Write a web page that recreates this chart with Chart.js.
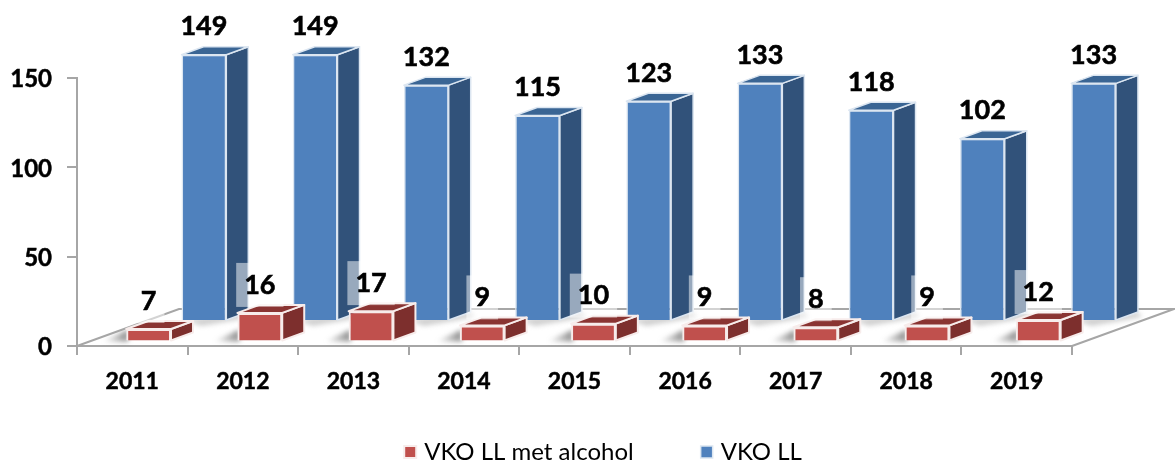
<!DOCTYPE html>
<html><head><meta charset="utf-8">
<style>html,body{margin:0;padding:0;background:#fff}canvas{display:block}</style>
<script src="https://cdn.jsdelivr.net/npm/chart.js@4"></script>
</head><body><canvas id="c" width="1175" height="463"></canvas>
<script>
const categories = ['2011','2012','2013','2014','2015','2016','2017','2018','2019'];
const alcoholValues = [7,16,17,9,10,9,8,9,12];
const totalValues = [149,149,132,115,123,133,118,102,133];
const seriesNames = ['VKO LL met alcohol','VKO LL'];
const yTicks = [0,50,100,150];

const FONT = 'Lato';
const DEPTH = {dx:22, dy:8};
const FLOOR = {dx:102, dy:37};
const SPREAD = 0.65;
const styles = [
  {dx:44, dy:-4.5, side:'#7D2F2D', top:'#8A3432', edge:'#F7ECEB', lw:2, boxed:true},
  {dx:44, dy:-25, side:'#31527A', top:'#3A6594', edge:'#DCE6F1', lw:1.5, boxed:false}
];
function poly(ctx, pts){ctx.beginPath();pts.forEach((p,i)=>i?ctx.lineTo(p[0],p[1]):ctx.moveTo(p[0],p[1]));ctx.closePath();}

const box3d = {
  id:'box3d',
  afterDatasetsUpdate(chart){
    [0,1].forEach(d=>chart.getDatasetMeta(d).data.forEach((el,i)=>{el.x+=i*SPREAD;}));
  },
  beforeDatasetsDraw(chart){
    const {ctx, chartArea:a} = chart;
    const L=a.left, R=a.right, B=a.bottom;
    ctx.save();
    poly(ctx,[[L,B],[R,B],[R+FLOOR.dx,B-FLOOR.dy],[L+FLOOR.dx,B-FLOOR.dy]]);ctx.clip();
    ctx.filter='blur(2.5px)';
    const s0=styles[0], s1=styles[1];
    chart.getDatasetMeta(1).data.forEach(el=>{
      const x0=el.x+s1.dx-el.width/2, x1=el.x+s1.dx+el.width/2, y=el.base+s1.dy;
      ctx.fillStyle='rgba(130,130,130,.38)';
      poly(ctx,[[x0+4,y],[x1+DEPTH.dx,y-8],[x1+DEPTH.dx+4,y-3],[x0+20,y+6]]);ctx.fill();
    });
    chart.getDatasetMeta(0).data.forEach(el=>{
      const x0=el.x+s0.dx-el.width/2, y=el.base+s0.dy;
      const g=ctx.createLinearGradient(x0-24,0,x0,0);
      g.addColorStop(0,'rgba(100,100,100,0)');g.addColorStop(1,'rgba(100,100,100,.7)');
      ctx.fillStyle=g;poly(ctx,[[x0+2,y-11],[x0+2,y+1],[x0-24,y+1]]);ctx.fill();
    });
    ctx.filter='none';
    ctx.restore();
    ctx.save();
    ctx.strokeStyle='#A6A6A6';ctx.lineWidth=2;
    ctx.beginPath();
    ctx.moveTo(L,B);ctx.lineTo(L+FLOOR.dx,B-FLOOR.dy);ctx.lineTo(R+FLOOR.dx,B-FLOOR.dy);ctx.lineTo(R,B);
    ctx.stroke();
    ctx.restore();
  },
  beforeDatasetDraw(chart,args){
    const s=styles[args.index];
    chart.ctx.save();chart.ctx.translate(s.dx,s.dy);
  },
  afterDatasetDraw(chart,args){
    const ctx=chart.ctx, s=styles[args.index];
    args.meta.data.forEach(el=>{
      const l=el.x-el.width/2, r=el.x+el.width/2, t=el.y, b=el.base, d=DEPTH;
      ctx.lineJoin='round';ctx.strokeStyle=s.edge;ctx.lineWidth=s.lw;
      ctx.fillStyle=s.side;poly(ctx,[[r,t],[r+d.dx,t-d.dy],[r+d.dx,b-d.dy],[r,b]]);ctx.fill();ctx.stroke();
      ctx.fillStyle=s.top;poly(ctx,[[l,t],[l+d.dx,t-d.dy],[r+d.dx,t-d.dy],[r,t]]);ctx.fill();ctx.stroke();
    });
    ctx.restore();
  },
  afterDatasetsDraw(chart){
    const ctx=chart.ctx;
    ctx.save();
    ctx.font='bold 27px '+FONT;ctx.textAlign='center';ctx.textBaseline='middle';
    ctx.strokeStyle='#000';ctx.lineWidth=0.6;
    [1,0].forEach(i=>{
      const s=styles[i], vals=chart.data.datasets[i].data;
      chart.getDatasetMeta(i).data.forEach((el,j)=>{
        const x=el.x+s.dx, y=el.y+s.dy-28, txt=String(vals[j]);
        if(s.boxed){
          const w=ctx.measureText(txt).width/2+8;
          ctx.fillStyle='rgba(255,255,255,.5)';ctx.fillRect(x-w,y-22,w*2,44);
        }
        ctx.fillStyle='#000';ctx.fillText(txt,x,y);ctx.strokeText(txt,x,y);
      });
    });
    ctx.restore();
  },
  afterLayout(chart){
    const lg=chart.legend, pad=lg.options.labels.padding;
    lg.left+=69;lg.right+=69;
    lg.top=440-pad;lg.bottom=463;
  }
};

new Chart(document.getElementById('c'),{
  type:'bar',
  data:{labels:categories,datasets:[
    {label:seriesNames[0],data:alcoholValues,backgroundColor:'#C0504D',borderColor:styles[0].edge,borderWidth:2,clip:false},
    {label:seriesNames[1],data:totalValues,backgroundColor:'#4F81BD',borderColor:styles[1].edge,borderWidth:1.5,clip:false}
  ]},
  options:{
    responsive:false,animation:false,
    categoryPercentage:1,barPercentage:.81,
    layout:{padding:{top:78,right:103,left:0,bottom:0}},
    plugins:{
      tooltip:{enabled:false},
      legend:{position:'bottom',maxHeight:40,labels:{
        font:{family:FONT,size:24},color:'#000',usePointStyle:true,pointStyle:'rect',boxWidth:4,boxHeight:12,padding:71
      }}
    },
    scales:{
      x:{
        grid:{drawOnChartArea:false,offset:true,color:'#A6A6A6',lineWidth:2,tickLength:9},
        border:{color:'#A6A6A6',width:2},
        ticks:{font:{family:FONT,size:23,weight:'bold'},color:'#000',padding:13,maxRotation:0,textStrokeColor:'#000',textStrokeWidth:0.5},
        afterFit(s){s.height=77;}
      },
      y:{
        min:0,max:150,
        afterBuildTicks(s){s.ticks=yTicks.map(v=>({value:v}));},
        grid:{drawOnChartArea:false,color:'#A6A6A6',lineWidth:2,tickLength:10},
        border:{color:'#A6A6A6',width:2},
        ticks:{font:{family:FONT,size:24,weight:'bold'},color:'#000',padding:15,labelOffset:1.5,textStrokeColor:'#000',textStrokeWidth:0.5},
        afterFit(s){s.width=77;}
      }
    }
  },
  plugins:[box3d]
});
</script></body></html>
